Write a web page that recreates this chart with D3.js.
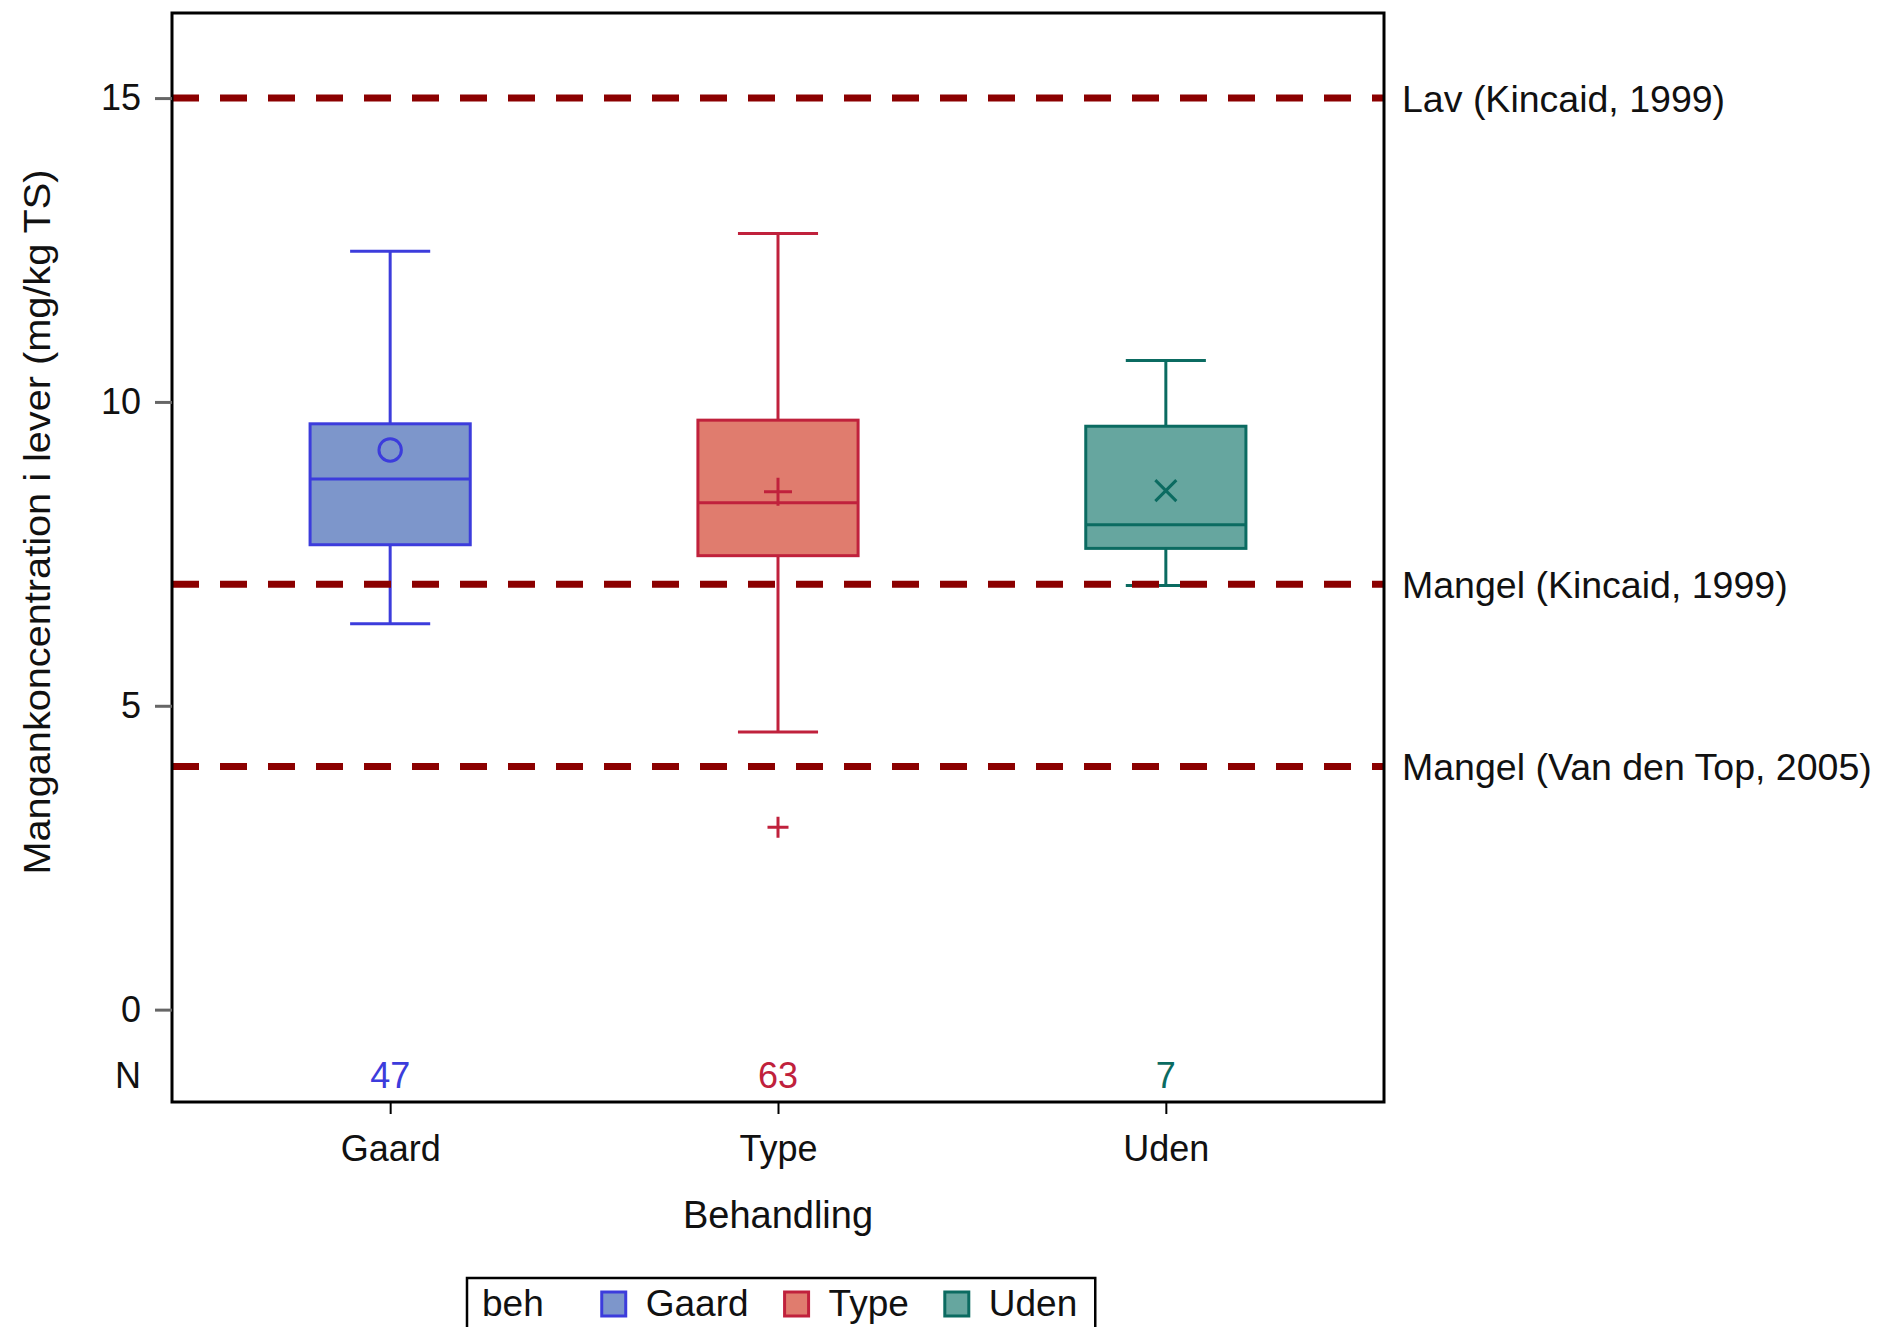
<!DOCTYPE html>
<html>
<head>
<meta charset="utf-8">
<script src="https://cdn.jsdelivr.net/npm/d3@7"></script>
<style>
  body { margin: 0; background: #fff; }
  svg { display: block; font-family: "Liberation Sans", Arial, sans-serif; }
</style>
</head>
<body>
<svg width="1879" height="1327"></svg>
<script>
// data
const categories = ['Gaard', 'Type', 'Uden'];
const counts = [47, 63, 7];
const whiskerLow = [6.35, 4.57, 6.98];
const q1 = [7.65, 7.47, 7.59];
const median = [8.73, 8.34, 7.98];
const q3 = [9.64, 9.70, 9.60];
const whiskerHigh = [12.48, 12.77, 10.68];
const means = [9.21, 8.52, 8.54];
const outliers = [[], [3.0], []];
const meanSymbols = ['circle', 'plus', 'cross'];
const refValues = [15, 7, 4];
const refLabels = ['Lav (Kincaid, 1999)', 'Mangel (Kincaid, 1999)', 'Mangel (Van den Top, 2005)'];
const yTicks = [0, 5, 10, 15];

const lineColors = ['#3c3cdc', '#c0213c', '#0b6b61'];
const fillColors = ['#7d96cb', '#e07c6e', '#66a69f'];

const svg = d3.select('svg');
const frame = {left: 172, top: 13, right: 1384, bottom: 1102};
const fontSize = 36;

const x = d3.scalePoint()
  .domain(categories)
  .range([frame.left, frame.right])
  .padding(0.5625);
const y = d3.scaleLinear()
  .domain([-1.52, 16.4])
  .range([frame.bottom, frame.top]);

const boxW = x.step() * 0.413;
const capW = boxW / 2;

const boxes = categories.map((c, i) => ({
  cat: c, i, lo: whiskerLow[i], q1: q1[i], med: median[i], q3: q3[i],
  hi: whiskerHigh[i], mean: means[i], out: outliers[i]
}));

const g = svg.append('g');

// boxes
const bg = g.selectAll('.box')
  .data(boxes)
  .enter()
  .append('g')
  .classed('box', true);

bg.append('line')
  .attr('x1', d => x(d.cat)).attr('x2', d => x(d.cat))
  .attr('y1', d => y(d.q3)).attr('y2', d => y(d.hi))
  .attr('stroke', d => lineColors[d.i]).attr('stroke-width', 3);
bg.append('line')
  .attr('x1', d => x(d.cat)).attr('x2', d => x(d.cat))
  .attr('y1', d => y(d.q1)).attr('y2', d => y(d.lo))
  .attr('stroke', d => lineColors[d.i]).attr('stroke-width', 3);
bg.selectAll('.cap')
  .data(d => [d.lo, d.hi].map(v => ({v, d})))
  .enter()
  .append('line')
  .classed('cap', true)
  .attr('x1', e => x(e.d.cat) - capW / 2).attr('x2', e => x(e.d.cat) + capW / 2)
  .attr('y1', e => y(e.v)).attr('y2', e => y(e.v))
  .attr('stroke', e => lineColors[e.d.i]).attr('stroke-width', 3);
bg.append('rect')
  .attr('x', d => x(d.cat) - boxW / 2)
  .attr('width', boxW)
  .attr('y', d => y(d.q3))
  .attr('height', d => y(d.q1) - y(d.q3))
  .attr('fill', d => fillColors[d.i])
  .attr('stroke', d => lineColors[d.i])
  .attr('stroke-width', 3);
bg.append('line')
  .attr('x1', d => x(d.cat) - boxW / 2).attr('x2', d => x(d.cat) + boxW / 2)
  .attr('y1', d => y(d.med)).attr('y2', d => y(d.med))
  .attr('stroke', d => lineColors[d.i]).attr('stroke-width', 3);

// mean markers
function marker(sel, type, cx, cy, r, color, sw) {
  if (type === 'circle') {
    sel.append('circle').attr('cx', cx).attr('cy', cy).attr('r', r * 0.8)
      .attr('fill', 'none').attr('stroke', color).attr('stroke-width', sw);
  } else if (type === 'plus') {
    sel.append('path')
      .attr('d', `M${cx - r},${cy}H${cx + r}M${cx},${cy - r}V${cy + r}`)
      .attr('stroke', color).attr('stroke-width', sw);
  } else {
    const k = r * 0.75;
    sel.append('path')
      .attr('d', `M${cx - k},${cy - k}L${cx + k},${cy + k}M${cx - k},${cy + k}L${cx + k},${cy - k}`)
      .attr('stroke', color).attr('stroke-width', sw);
  }
}
bg.each(function (d) {
  marker(d3.select(this), meanSymbols[d.i], x(d.cat), y(d.mean), 14, lineColors[d.i], 3);
  d.out.forEach(v => marker(d3.select(this), 'plus', x(d.cat), y(v), 10.5, lineColors[d.i], 3));
});

// reference lines
g.selectAll('.ref')
  .data(refValues)
  .enter()
  .append('line')
  .classed('ref', true)
  .attr('x1', frame.left).attr('x2', frame.right)
  .attr('y1', d => y(d)).attr('y2', d => y(d))
  .attr('stroke', '#8b0000')
  .attr('stroke-width', 7)
  .attr('stroke-dasharray', '27,21');

svg.selectAll('.reflab')
  .data(refValues)
  .enter()
  .append('text')
  .attr('x', frame.right + 18)
  .attr('y', d => y(d))
  .attr('dy', '0.36em')
  .attr('font-size', 37.5)
  .attr('fill', '#111')
  .text((d, i) => refLabels[i]);

// frame
svg.append('rect')
  .attr('x', frame.left).attr('y', frame.top)
  .attr('width', frame.right - frame.left)
  .attr('height', frame.bottom - frame.top)
  .attr('fill', 'none')
  .attr('stroke', '#000')
  .attr('stroke-width', 3);

// y axis
const yAxis = svg.append('g')
  .attr('transform', `translate(${frame.left},0)`)
  .call(d3.axisLeft(y).tickValues(yTicks).tickSize(17).tickPadding(14));
yAxis.select('.domain').remove();
yAxis.selectAll('.tick line').attr('stroke', '#666').attr('stroke-width', 3);
yAxis.selectAll('.tick text')
  .attr('font-size', fontSize).attr('font-family', null).attr('fill', '#111');

// x axis
const xAxis = svg.append('g')
  .attr('transform', `translate(0,${frame.bottom})`)
  .call(d3.axisBottom(x).tickSize(12).tickPadding(21));
xAxis.select('.domain').remove();
xAxis.selectAll('.tick line').attr('stroke', '#000').attr('stroke-width', 2);
xAxis.selectAll('.tick text')
  .attr('font-size', fontSize).attr('font-family', null).attr('fill', '#111');

// N row
svg.append('text')
  .attr('x', frame.left - 31)
  .attr('y', 1088)
  .attr('text-anchor', 'end')
  .attr('font-size', fontSize)
  .attr('fill', '#111')
  .text('N');
svg.selectAll('.ncount')
  .data(counts)
  .enter()
  .append('text')
  .attr('x', (d, i) => x(categories[i]))
  .attr('y', 1088)
  .attr('text-anchor', 'middle')
  .attr('font-size', fontSize)
  .attr('fill', (d, i) => lineColors[i])
  .text(d => d);

// axis titles
svg.append('text')
  .attr('x', (frame.left + frame.right) / 2)
  .attr('y', 1228)
  .attr('text-anchor', 'middle')
  .attr('font-size', 38)
  .attr('fill', '#111')
  .text('Behandling');
svg.append('text')
  .attr('transform', 'translate(50,522) rotate(-90)')
  .attr('text-anchor', 'middle')
  .attr('font-size', 37)
  .attr('textLength', 705)
  .attr('lengthAdjust', 'spacingAndGlyphs')
  .attr('fill', '#111')
  .text('Mangankoncentration i lever (mg/kg TS)');

// legend
const leg = svg.append('g');
const legBaseline = 1316;
let cursor = 482;
const legTitle = leg.append('text')
  .attr('x', cursor).attr('y', legBaseline)
  .attr('font-size', 37).attr('fill', '#111')
  .text('beh');
cursor += legTitle.node().getComputedTextLength() + 58;
categories.forEach((c, i) => {
  leg.append('rect')
    .attr('x', cursor).attr('y', legBaseline - 24)
    .attr('width', 24).attr('height', 24)
    .attr('fill', fillColors[i])
    .attr('stroke', lineColors[i]).attr('stroke-width', 3);
  cursor += 24 + 20;
  const t = leg.append('text')
    .attr('x', cursor).attr('y', legBaseline)
    .attr('font-size', 37).attr('fill', '#111')
    .text(c);
  cursor += t.node().getComputedTextLength() + 36;
});
leg.insert('rect', ':first-child')
  .attr('x', 467).attr('y', 1278)
  .attr('width', cursor - 36 + 18 - 467)
  .attr('height', 80)
  .attr('fill', '#fff')
  .attr('stroke', '#000')
  .attr('stroke-width', 2.5);
</script>
</body>
</html>
